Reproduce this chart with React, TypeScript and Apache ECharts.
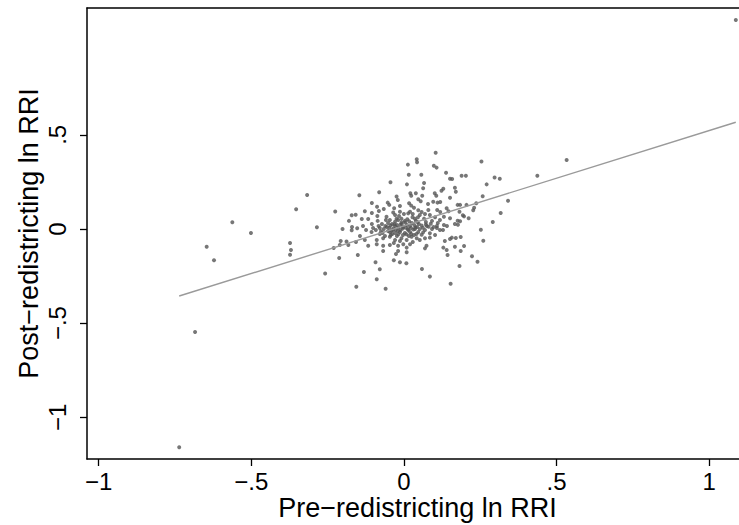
import { useEffect, useRef } from "react";
import * as echarts from "echarts";

// Tick values
const xTicks = [-1, -0.5, 0, 0.5, 1];
const yTicks = [-1, -0.5, 0, 0.5];

// Fitted line endpoints (pre, post)
const fitX = [-0.736, 1.087];
const fitY = [-0.356, 0.567];

// Scattered outer points [pre, post]
const outerPoints: [number, number][] = [
  [1.087, 1.11], [-0.736, -1.16], [-0.684, -0.547], [-0.562, 0.036], [-0.501, -0.021],
  [-0.646, -0.094], [-0.622, -0.166], [-0.317, 0.181], [-0.353, 0.105], [-0.225, 0.093],
  [-0.285, 0.009], [-0.201, 0.0], [-0.373, -0.074], [-0.37, -0.112], [-0.373, -0.137],
  [-0.207, -0.064], [-0.212, -0.154], [-0.258, -0.236], [-0.23, -0.101], [-0.182, -0.085],
  [-0.146, 0.179], [-0.171, 0.073], [-0.158, 0.076], [-0.171, -0.007], [-0.153, 0.004],
  [-0.157, -0.069], [-0.151, -0.138], [-0.156, -0.307],
];

// Right-hand points
const rightPoints: [number, number][] = [
  [0.254, 0.358], [0.189, 0.283], [0.203, 0.283], [0.297, 0.273], [0.314, 0.267],
  [0.437, 0.283], [0.533, 0.367], [0.271, 0.237], [0.167, 0.219], [0.17, 0.198],
  [0.258, 0.174], [0.341, 0.15], [0.176, 0.128], [0.184, 0.128], [0.205, 0.128],
  [0.237, 0.137], [0.23, 0.113], [0.227, 0.099], [0.182, 0.092], [0.193, 0.073],
  [0.197, 0.067], [0.212, 0.057], [0.317, 0.085], [0.176, 0.044], [0.184, 0.041],
  [0.177, 0.023], [0.291, 0.037], [0.252, -0.004], [0.26, -0.062], [0.17, -0.048],
  [0.186, -0.043], [0.167, -0.094], [0.197, -0.09], [0.186, -0.117], [0.223, -0.145],
  [0.241, -0.174], [0.182, -0.197], [0.153, -0.291], [0.143, -0.138],
];

// Upper part of the central cluster
const upperCluster: [number, number][] = [
  [0.104, 0.405], [0.042, 0.37], [0.043, 0.354], [0.013, 0.342], [0.098, 0.336],
  [0.107, 0.326], [0.016, 0.288], [0.057, 0.288], [0.138, 0.299], [-0.044, 0.248],
  [0.151, 0.267], [0.158, 0.266], [0.066, 0.244], [0.01, 0.237], [0.063, 0.216],
  [0.129, 0.214], [0.123, 0.203], [-0.081, 0.195], [0.021, 0.19], [0.024, 0.177],
  [0.039, 0.19], [0.06, 0.177], [0.101, 0.19], [0.106, 0.177], [-0.024, 0.172],
  [0.047, 0.158], [0.055, 0.147], [0.096, 0.145], [0.11, 0.14], [0.119, 0.143],
  [0.151, 0.166], [0.017, 0.137], [-0.053, 0.14], [-0.048, 0.128], [-0.088, 0.118],
  [-0.032, 0.11], [0.024, 0.124], [0.033, 0.113], [-0.128, 0.094], [-0.082, 0.096],
  [0.047, 0.099], [0.058, 0.09], [0.08, 0.101], [0.069, 0.08], [0.109, 0.101],
  [0.119, 0.09], [0.14, 0.11], [0.146, 0.094], [-0.035, 0.087], [-0.029, 0.074],
  [-0.013, 0.092], [0.014, 0.083], [0.02, 0.092], [-0.117, 0.053], [-0.087, 0.069],
  [-0.086, 0.043], [-0.057, 0.065], [-0.046, 0.048], [-0.029, 0.039], [-0.019, 0.048],
  [-0.008, 0.055], [0.003, 0.043], [0.028, 0.062], [0.039, 0.044], [0.052, 0.074],
  [0.066, 0.055], [0.085, 0.074], [0.102, 0.062], [0.118, 0.048], [0.131, 0.065],
  [0.151, 0.057], [-0.105, 0.085], [-0.066, 0.106], [-0.013, 0.122], [0.079, 0.133],
  [-0.02, 0.154], [-0.105, 0.138], [-0.18, 0.043], [-0.138, 0.053],
];

// Core and lower part of the central cluster
const lowerCluster: [number, number][] = [
  [-0.17, 0.011], [-0.134, 0.016], [-0.101, 0.005], [-0.079, 0.005], [-0.056, 0.011],
  [-0.029, 0.016], [-0.003, 0.011], [0.02, 0.016], [0.043, 0.011], [0.075, 0.016],
  [0.108, 0.016], [0.141, 0.016], [0.167, 0.027], [-0.092, -0.005], [-0.066, 0.0],
  [-0.036, -0.005], [-0.02, -0.011], [0.013, 0.0], [0.036, 0.0], [0.052, 0.0],
  [0.069, -0.005], [0.092, 0.0], [0.108, 0.005], [0.118, -0.005], [0.128, -0.005],
  [-0.106, -0.016], [-0.07, -0.021], [-0.046, -0.016], [-0.029, -0.021], [-0.013, -0.016],
  [0.003, -0.021], [0.02, -0.016], [0.047, -0.016], [0.063, -0.018], [0.085, -0.023],
  [-0.188, -0.067], [-0.128, -0.058], [-0.089, -0.058], [-0.068, -0.049], [-0.046, -0.041],
  [-0.029, -0.058], [-0.008, -0.049], [0.009, -0.058], [0.025, -0.041], [0.042, -0.049],
  [0.069, -0.049], [0.085, -0.046], [0.102, -0.032], [-0.21, -0.085], [-0.117, -0.089],
  [-0.089, -0.081], [-0.068, -0.089], [-0.046, -0.085], [-0.019, -0.089], [-0.002, -0.081],
  [0.02, -0.081], [0.074, -0.089], [0.134, -0.064], [0.151, -0.053], [0.157, -0.046],
  [-0.068, -0.117], [-0.019, -0.117], [0.009, -0.099], [0.069, -0.103], [0.129, -0.099],
  [0.14, -0.112], [-0.026, -0.133], [0.009, -0.124], [-0.093, -0.177], [-0.033, -0.166],
  [-0.013, -0.177], [0.008, -0.182], [-0.079, -0.214], [-0.131, -0.228], [0.059, -0.213],
  [-0.089, -0.267], [0.085, -0.253], [-0.06, -0.317], [-0.039, 0.027], [-0.023, 0.021],
  [-0.007, 0.027], [0.01, 0.021], [0.026, 0.032], [-0.052, 0.032], [-0.016, 0.069],
  [0.0, 0.08], [0.029, 0.08], [-0.043, -0.032], [-0.023, -0.037], [-0.003, -0.032],
  [0.016, -0.037], [0.033, -0.032], [-0.062, -0.037], [-0.079, -0.027], [-0.059, 0.048],
  [-0.072, 0.027], [0.049, 0.027], [0.072, 0.037], [0.092, 0.043], [0.111, 0.032],
  [0.131, 0.021], [-0.013, -0.064], [0.029, -0.069], [0.052, -0.058], [-0.033, -0.074],
  [-0.105, 0.027], [-0.124, -0.005], [-0.144, -0.037],
];

// Densest part of the cluster, near the origin
const denseCore: [number, number][] = [
  [-0.048, 0.006], [-0.041, -0.009], [-0.035, 0.003], [-0.027, -0.004], [-0.018, 0.007],
  [-0.011, -0.006], [-0.004, 0.002], [0.006, 0.006], [0.014, -0.006], [0.023, 0.005],
  [0.031, -0.003], [0.038, 0.008], [-0.044, 0.018], [-0.031, 0.025], [-0.012, 0.022],
  [0.004, 0.034], [0.017, 0.041], [0.034, 0.021], [0.045, 0.036], [0.058, 0.018],
  [-0.038, -0.027], [-0.018, -0.028], [0.008, -0.028], [0.024, -0.026], [0.041, -0.027],
  [0.058, -0.031], [-0.052, -0.011], [0.062, 0.006], [0.072, 0.024], [0.081, 0.012],
  [-0.061, 0.016], [-0.008, 0.036], [0.011, 0.052], [0.036, 0.055], [-0.024, 0.055],
  [0.088, 0.028], [0.097, 0.011], [-0.083, 0.016], [-0.075, -0.012], [0.046, 0.062],
];

const FONT = "'Liberation Sans', Arial, Helvetica, sans-serif";

const fmt = (v: number) => {
  if (v === 0) return "0";
  const a = String(Math.abs(v)).replace(/^0/, "");
  return (v < 0 ? "\u2212" : "") + a;
};

export default function App() {
  const ref = useRef<HTMLDivElement>(null);
  useEffect(() => {
    if (!ref.current) return;
    const chart = echarts.init(ref.current, undefined, { renderer: "svg" });
    const points = [...outerPoints, ...rightPoints, ...upperCluster, ...lowerCluster, ...denseCore];
    chart.setOption({
      animation: false,
      backgroundColor: "#ffffff",
      grid: { left: 87, top: 8, right: -9, bottom: 66, containLabel: false, outerBoundsMode: "none" },
      xAxis: [
        {
          type: "value",
          min: -1.038,
          max: 1.127,
          position: "bottom",
          splitLine: { show: false },
          axisLine: { show: true, onZero: false, lineStyle: { color: "#000", width: 1.5 } },
          axisTick: { show: true, customValues: xTicks, length: 7, lineStyle: { color: "#000", width: 1.3 } },
          axisLabel: {
            customValues: xTicks,
            formatter: fmt,
            color: "#000",
            fontSize: 24,
            fontFamily: FONT,
            margin: 10,
          },
          name: "Pre\u2212redistricting ln RRI",
          nameLocation: "middle",
          nameGap: 35,
          nameMoveOverlap: false,
          nameTextStyle: { color: "#000", fontSize: 27, fontFamily: FONT, lineHeight: 28 },
        },
        {
          type: "value",
          min: -1.038,
          max: 1.127,
          position: "top",
          splitLine: { show: false },
          axisLine: { show: true, onZero: false, lineStyle: { color: "#000", width: 1.5 } },
          axisTick: { show: false },
          axisLabel: { show: false },
        },
      ],
      yAxis: {
        type: "value",
        min: -1.222,
        max: 1.174,
        splitLine: { show: false },
        axisLine: { show: true, onZero: false, lineStyle: { color: "#000", width: 1.5 } },
        axisTick: { show: true, customValues: yTicks, length: 7, lineStyle: { color: "#000", width: 1.3 } },
        axisLabel: {
          customValues: yTicks,
          formatter: fmt,
          rotate: 90,
          color: "#000",
          fontSize: 24,
          fontFamily: FONT,
          margin: 18,
        },
        name: "Post\u2212redistricting ln RRI",
        nameLocation: "middle",
        nameGap: 45,
        nameMoveOverlap: false,
        nameTextStyle: { color: "#000", fontSize: 27, fontFamily: FONT },
      },
      series: [
        {
          type: "scatter",
          data: points,
          symbol: "circle",
          symbolSize: 4,
          itemStyle: { color: "#555555" },
          silent: true,
        },
        {
          type: "line",
          data: fitX.map((x, i) => [x, fitY[i]]),
          symbol: "none",
          lineStyle: { color: "#9a9a9a", width: 1.4 },
          silent: true,
        },
      ],
    });
    return () => chart.dispose();
  }, []);
  return (
    <div
      ref={ref}
      style={{ position: "absolute", left: 0, top: 0, width: 739, height: 525 }}
    />
  );
}
